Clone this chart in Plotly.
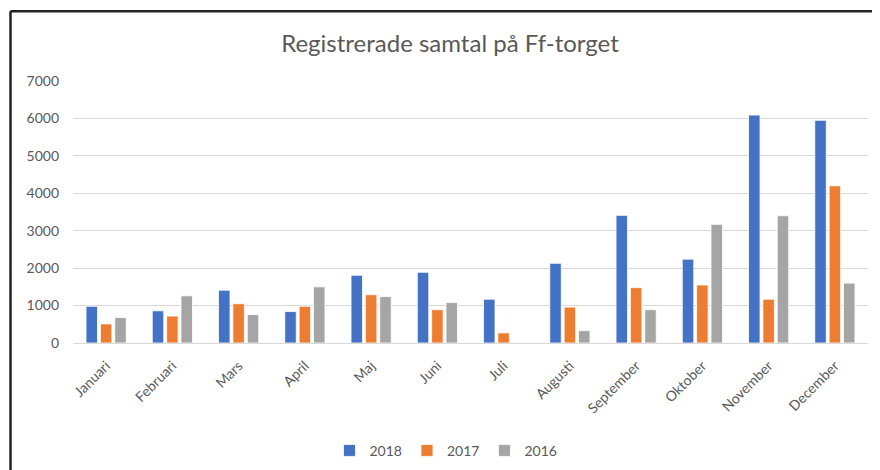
import plotly.graph_objects as go

months = ["Januari", "Februari", "Mars", "April", "Maj", "Juni", "Juli",
          "Augusti", "September", "Oktober", "November", "December"]
v2018 = [980, 860, 1410, 840, 1810, 1890, 1170, 2130, 3410, 2240, 6090, 5950]
v2017 = [510, 720, 1050, 980, 1290, 890, 270, 960, 1480, 1550, 1170, 4200]
v2016 = [680, 1260, 760, 1500, 1240, 1080, 0, 330, 890, 3170, 3400, 1600]
series_names = ["2018", "2017", "2016"]
y_ticks = [0, 1000, 2000, 3000, 4000, 5000, 6000, 7000]

colors = ["#4472C4", "#ED7D31", "#A5A5A5"]
FONT = "Lato, 'Open Sans', sans-serif"

fig = go.Figure()
for name, vals, c in zip(series_names, [v2018, v2017, v2016], colors):
    fig.add_trace(go.Bar(
        x=months, y=vals, name=name,
        marker=dict(color=c, line=dict(color="white", width=0.8)),
    ))

# page has an 8px body margin; work in page coordinates and convert
OFF = 8
W, H = 880 - OFF, 470 - OFF
PL, PR, PT, PB = 73, 868, 80.5, 343  # plot area in page px
L, R, T, B = PL - OFF, W - (PR - OFF), PT - OFF, H - (PB - OFF)
pw, ph = W - L - R, H - T - B

def px_x(x):
    return (x - OFF - L) / pw

def px_y(y):
    return (H - B - (y - OFF)) / ph

fig.update_layout(
    width=W, height=H,
    margin=dict(l=L, r=R, t=T, b=B, autoexpand=False),
    paper_bgcolor="white", plot_bgcolor="white",
    barmode="group", bargap=0.35, bargroupgap=0.2,
    title=dict(text="Registrerade samtal på Ff-torget",
               x=(450 - OFF) / W, y=1 - (44 - OFF) / H,
               xanchor="center", yanchor="middle",
               xref="container", yref="container",
               font=dict(family=FONT, size=24, color="#595959")),
    font=dict(family=FONT, color="#595959"),
    showlegend=True,
    legend=dict(orientation="h", x=px_x(446), y=px_y(451),
                xanchor="center", yanchor="middle",
                font=dict(family=FONT, size=14, color="#595959"),
                itemwidth=30, traceorder="normal", tracegroupgap=0),
    xaxis=dict(tickangle=-45, showgrid=False, showline=False, ticks="",
               ticklabelstandoff=11,
               tickfont=dict(family=FONT, size=14, color="#595959")),
    yaxis=dict(range=[0, 7000], tickvals=y_ticks, showgrid=True,
               gridcolor="#D9D9D9", gridwidth=1, zeroline=True,
               zerolinecolor="#D9D9D9", zerolinewidth=1, showline=False,
               ticks="", ticklabelstandoff=13,
               tickfont=dict(family=FONT, size=14, color="#595959")),
    shapes=[
        dict(type="line", xref="paper", yref="paper",
             x0=px_x(10.5), x1=px_x(10.5), y0=px_y(10.5), y1=px_y(480),
             line=dict(color="#222222", width=2.5)),
        dict(type="line", xref="paper", yref="paper",
             x0=px_x(10.5), x1=px_x(890), y0=px_y(10.5), y1=px_y(10.5),
             line=dict(color="#222222", width=2.5)),
    ],
)

fig.write_html("out.html")
